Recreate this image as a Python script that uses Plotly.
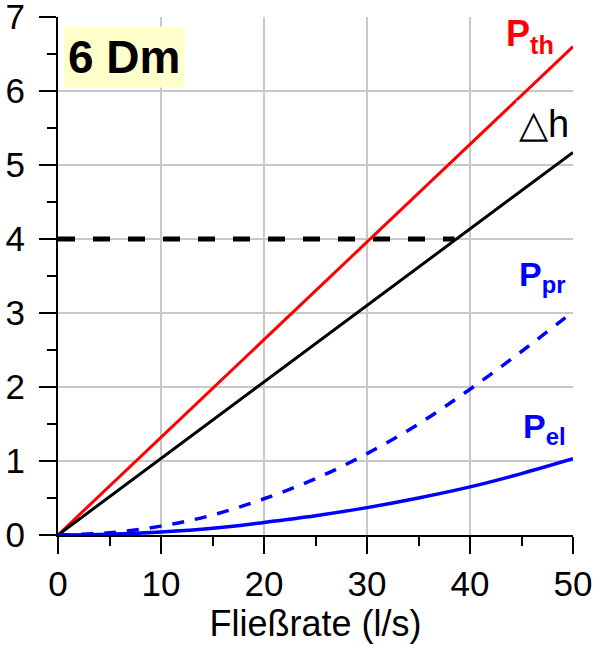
import plotly.graph_objects as go

# Data
x_lin = [0, 50]
p_th = [0, 6.6]
delta_h = [0, 5.17]
x_q = [0, 5, 10, 15, 20, 25, 30, 35, 40, 45, 50]
p_pr = [0, 0.03, 0.12, 0.27, 0.49, 0.76, 1.10, 1.50, 1.97, 2.48, 3.02]
p_el = [0, 0.01, 0.04, 0.09, 0.17, 0.26, 0.37, 0.50, 0.65, 0.83, 1.03]
ref_x = [0, 38.5]
ref_y = [4, 4]

FONT = "Liberation Sans, Arial, sans-serif"

fig = go.Figure()
fig.add_trace(go.Scatter(x=ref_x, y=ref_y, mode="lines",
                         line=dict(color="black", width=5, dash="17px,18px"), showlegend=False))
fig.add_trace(go.Scatter(x=x_lin, y=p_th, mode="lines",
                         line=dict(color="#ff0000", width=3), showlegend=False))
fig.add_trace(go.Scatter(x=x_lin, y=delta_h, mode="lines",
                         line=dict(color="black", width=3), showlegend=False))
fig.add_trace(go.Scatter(x=x_q, y=p_pr, mode="lines", line_shape="spline",
                         line=dict(color="#0000ff", width=3.5, dash="12px,11px"), showlegend=False))
fig.add_trace(go.Scatter(x=x_q, y=p_el, mode="lines", line_shape="spline",
                         line=dict(color="#0000ff", width=3.5), showlegend=False))

axis_common = dict(
    showline=True, linecolor="black", linewidth=2,
    ticks="outside", ticklen=17, tickwidth=2, tickcolor="black",
    showgrid=True, gridcolor="#c8c8c8", gridwidth=2,
    zeroline=False, tickfont=dict(family=FONT, size=35, color="black"),
    automargin=False, ticklabeloverflow="allow",
)

fig.update_xaxes(range=[0, 50], tickvals=[0, 10, 20, 30, 40, 50],
                 minor=dict(tickvals=[5, 15, 25, 35, 45], ticklen=9, tickwidth=2,
                            tickcolor="black", ticks="outside", showgrid=False),
                 title=dict(text="Fließrate (l/s)", font=dict(family=FONT, size=36, color="black"),
                            standoff=8),
                 **axis_common)
fig.update_yaxes(range=[0, 7], tickvals=[0, 1, 2, 3, 4, 5, 6, 7],
                 minor=dict(tickvals=[0.5, 1.5, 2.5, 3.5, 4.5, 5.5, 6.5], ticklen=9, tickwidth=2,
                            tickcolor="black", ticks="outside", showgrid=False),
                 ticklabelstandoff=7,
                 **axis_common)

anns = [
    dict(text="<b>6 Dm</b>", xref="paper", yref="paper", x=0.0097, y=0.983,
         xanchor="left", yanchor="top", bgcolor="#ffffcc", borderpad=4,
         font=dict(family=FONT, size=46, color="black")),
    dict(text="<b>P<sub>th</sub></b>", x=45.8, y=6.74, font=dict(family=FONT, size=36, color="#ff0000")),
    dict(text="△h", x=47.2, y=5.56, bgcolor="white", borderpad=2,
         font=dict(family=FONT, size=38, color="black")),
    dict(text="<b>P<sub>pr</sub></b>", x=47.0, y=3.5, font=dict(family=FONT, size=34, color="#0000ff")),
    dict(text="<b>P<sub>el</sub></b>", x=47.2, y=1.44, font=dict(family=FONT, size=34, color="#0000ff")),
]
for a in anns:
    a.setdefault("xref", "x")
    a.setdefault("yref", "y")
    a["showarrow"] = False
    fig.add_annotation(**a)

fig.update_layout(width=597, height=649, margin=dict(l=58, r=24, t=17, b=114),
                  plot_bgcolor="white", paper_bgcolor="white")

fig.write_html("out.html", config={"displayModeBar": False},
               post_script="document.body.style.margin='0';")
